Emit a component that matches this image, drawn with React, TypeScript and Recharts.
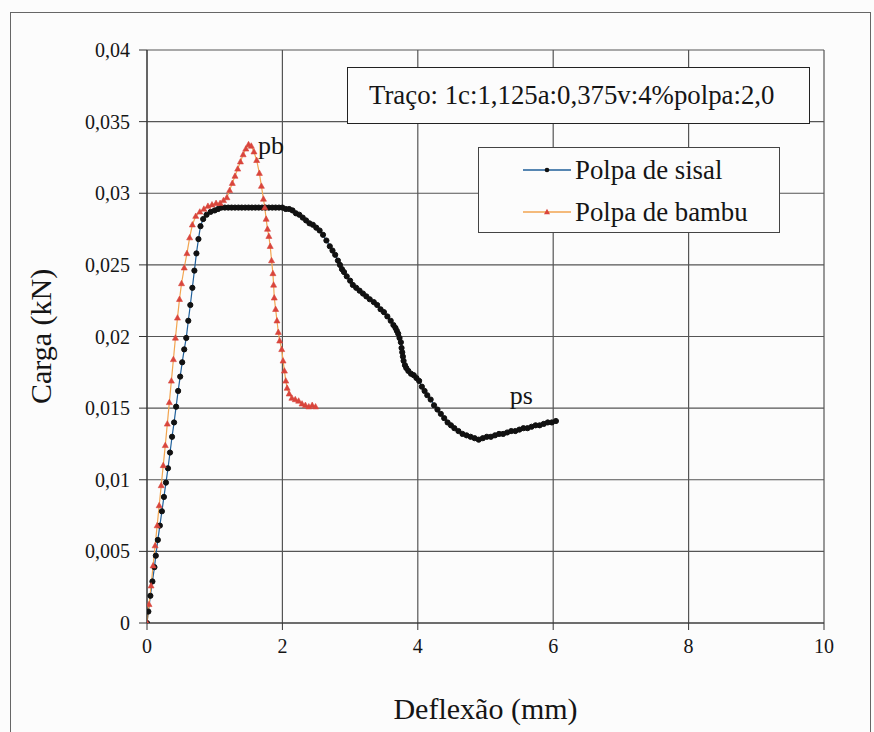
import React from 'react';
import { LineChart, Line, XAxis, YAxis, CartesianGrid, ReferenceDot } from 'recharts';

// Polpa de sisal — deflexão (mm) and carga (kN)
const sisalX = [0, 0.02, 0.05, 0.08, 0.11, 0.13, 0.16, 0.19, 0.22, 0.25, 0.28, 0.31, 0.34, 0.37, 0.40, 0.43, 0.46, 0.49, 0.52, 0.55, 0.58, 0.61, 0.64, 0.67, 0.70, 0.73, 0.76, 0.79, 0.83, 0.88, 0.94, 1.0, 1.05, 1.1, 1.15, 1.2, 1.25, 1.3, 1.35, 1.4, 1.45, 1.5, 1.55, 1.6, 1.65, 1.7, 1.75, 1.8, 1.85, 1.9, 1.95, 2.0, 2.05, 2.1, 2.15, 2.2, 2.25, 2.3, 2.35, 2.4, 2.45, 2.5, 2.55, 2.6, 2.65, 2.7, 2.74, 2.78, 2.82, 2.85, 2.88, 2.91, 2.95, 3.0, 3.04, 3.09, 3.14, 3.19, 3.24, 3.29, 3.35, 3.4, 3.45, 3.5, 3.55, 3.6, 3.64, 3.67, 3.69, 3.71, 3.73, 3.75, 3.76, 3.77, 3.78, 3.79, 3.81, 3.83, 3.86, 3.9, 3.94, 3.98, 4.02, 4.06, 4.1, 4.14, 4.19, 4.24, 4.29, 4.34, 4.39, 4.44, 4.49, 4.54, 4.6, 4.66, 4.72, 4.78, 4.84, 4.9, 4.96, 5.02, 5.08, 5.14, 5.2, 5.26, 5.32, 5.38, 5.44, 5.5, 5.56, 5.62, 5.68, 5.74, 5.8, 5.86, 5.92, 5.98, 6.04];
const sisalY = [0, 0.0008, 0.0019, 0.0029, 0.0039, 0.0047, 0.0058, 0.0068, 0.0078, 0.0088, 0.0098, 0.0108, 0.0119, 0.013, 0.014, 0.0151, 0.0162, 0.0172, 0.0182, 0.0191, 0.0199, 0.0211, 0.0222, 0.0234, 0.0246, 0.0258, 0.0268, 0.0277, 0.0282, 0.0285, 0.0287, 0.0288, 0.0289, 0.029, 0.029, 0.029, 0.029, 0.029, 0.029, 0.029, 0.029, 0.029, 0.029, 0.029, 0.029, 0.029, 0.029, 0.029, 0.029, 0.029, 0.029, 0.029, 0.0289, 0.0289, 0.0288, 0.0286, 0.0285, 0.0283, 0.0281, 0.0279, 0.0278, 0.0276, 0.0274, 0.0271, 0.0267, 0.0263, 0.026, 0.0257, 0.0253, 0.025, 0.0247, 0.0245, 0.0242, 0.0239, 0.0236, 0.0234, 0.0232, 0.023, 0.0228, 0.0226, 0.0224, 0.0222, 0.0219, 0.0217, 0.0214, 0.0211, 0.0208, 0.0206, 0.0204, 0.0202, 0.0199, 0.0196, 0.0192, 0.0189, 0.0186, 0.0183, 0.018, 0.0178, 0.0176, 0.0174, 0.0173, 0.0171, 0.0169, 0.0165, 0.0162, 0.0159, 0.0156, 0.0152, 0.0149, 0.0146, 0.0143, 0.014, 0.0138, 0.0136, 0.0134, 0.0132, 0.0131, 0.013, 0.0129, 0.0128, 0.0129, 0.013, 0.013, 0.0131, 0.0132, 0.0132, 0.0133, 0.0134, 0.0134, 0.0135, 0.0136, 0.0136, 0.0137, 0.0138, 0.0138, 0.0139, 0.014, 0.014, 0.0141, 0.0142, 0.0143];

// Polpa de bambu
const bambuX = [0, 0.03, 0.06, 0.09, 0.12, 0.15, 0.18, 0.21, 0.24, 0.27, 0.30, 0.33, 0.36, 0.39, 0.42, 0.45, 0.48, 0.51, 0.55, 0.59, 0.63, 0.67, 0.72, 0.78, 0.84, 0.9, 0.96, 1.02, 1.08, 1.13, 1.18, 1.22, 1.26, 1.3, 1.34, 1.38, 1.42, 1.46, 1.5, 1.54, 1.58, 1.62, 1.66, 1.69, 1.72, 1.74, 1.76, 1.78, 1.8, 1.82, 1.84, 1.86, 1.87, 1.88, 1.9, 1.92, 1.94, 1.96, 1.99, 2.01, 2.03, 2.05, 2.07, 2.1, 2.14, 2.19, 2.24, 2.29, 2.34, 2.39, 2.44, 2.49];
const bambuY = [0, 0.0013, 0.0026, 0.004, 0.0054, 0.0068, 0.0082, 0.0096, 0.011, 0.0124, 0.0139, 0.0154, 0.0169, 0.0184, 0.0199, 0.0213, 0.0226, 0.0237, 0.0248, 0.0258, 0.0269, 0.0278, 0.0284, 0.0287, 0.0289, 0.0291, 0.0292, 0.0293, 0.0293, 0.0295, 0.0297, 0.0302, 0.0307, 0.0312, 0.0317, 0.0322, 0.0327, 0.0331, 0.0334, 0.0333, 0.0329, 0.0323, 0.0314, 0.0305, 0.0296, 0.029, 0.0282, 0.0275, 0.027, 0.0263, 0.0253, 0.0244, 0.0236, 0.0227, 0.0219, 0.0211, 0.0203, 0.0197, 0.0191, 0.0183, 0.0176, 0.0169, 0.0164, 0.016, 0.0157, 0.0156, 0.0155, 0.0153, 0.0152, 0.0151, 0.0152, 0.0151];

const xTicks = [0, 2, 4, 6, 8, 10];
const yTicks = [0, 0.005, 0.01, 0.015, 0.02, 0.025, 0.03, 0.035, 0.04];
const yTickLabels = ['0', '0,005', '0,01', '0,015', '0,02', '0,025', '0,03', '0,035', '0,04'];
const seriesNames = ['Polpa de sisal', 'Polpa de bambu'];
const noteText = 'Traço: 1c:1,125a:0,375v:4%polpa:2,0';

const sisalData = sisalX.map((x, i) => ({ x, y: sisalY[i] }));
const bambuData = bambuX.map((x, i) => ({ x, y: bambuY[i] }));

const FONT = 'Liberation Serif, "Liberation Serif", Tinos, "Times New Roman", Times, "DejaVu Serif", serif';
const SISAL_LINE = '#1f5f9a';
const SISAL_DOT = '#111111';
const BAMBU_LINE = '#f2a550';
const BAMBU_DOT = '#d9453c';
const TEXT = '#151515';

const fmtY = (v: number) => {
  const i = yTicks.findIndex((t) => Math.abs(t - v) < 1e-9);
  return i >= 0 ? yTickLabels[i] : String(v).replace('.', ',');
};

const TriDot = (props: any) => {
  const { cx, cy, index } = props;
  if (cx == null || cy == null) return <g key={`t${index}`} />;
  return (
    <path
      key={`t${index}`}
      d={`M${cx},${cy - 3.2} L${cx + 3},${cy + 2.2} L${cx - 3},${cy + 2.2} Z`}
      fill={BAMBU_DOT}
      stroke={BAMBU_DOT}
      strokeWidth={0.6}
    />
  );
};

export default function App() {
  return (
    <div style={{ position: 'absolute', left: 0, top: 0, width: 874, height: 732, background: '#fcfcfc', overflow: 'hidden', fontFamily: FONT }}>
      <div style={{ position: 'absolute', left: 10, top: 12, width: 861, height: 740, border: '1.5px solid #666', boxSizing: 'border-box' }} />
      <LineChart
        width={874}
        height={732}
        margin={{ top: 50, right: 50, bottom: 49, left: 0 }}
        style={{ position: 'absolute', left: 0, top: 0 }}
      >
        <CartesianGrid stroke="#555" strokeWidth={1.2} horizontalValues={yTicks} verticalValues={xTicks} />
        <XAxis
          type="number"
          dataKey="x"
          domain={[0, 10]}
          ticks={xTicks}
          interval={0}
          height={60}
          tickSize={7}
          tickMargin={9}
          stroke="#333"
          tick={{ fill: TEXT, fontSize: 20, fontFamily: FONT }}
          allowDataOverflow
          label={{ value: 'Deflexão (mm)', position: 'insideBottom', offset: -36, fill: TEXT, fontSize: 30, fontFamily: FONT }}
        />
        <YAxis
          type="number"
          dataKey="y"
          domain={[0, 0.04]}
          ticks={yTicks}
          interval={0}
          width={147}
          tickSize={8}
          tickMargin={9}
          stroke="#333"
          tickFormatter={fmtY}
          tick={{ fill: TEXT, fontSize: 20, fontFamily: FONT }}
          allowDataOverflow
          label={{ value: 'Carga (kN)', angle: -90, position: 'center', dx: -33, fill: TEXT, fontSize: 30, fontFamily: FONT }}
        />
        <Line
          data={sisalData}
          dataKey="y"
          name={seriesNames[0]}
          type="linear"
          stroke={SISAL_LINE}
          strokeWidth={1.2}
          dot={{ r: 2.6, fill: SISAL_DOT, stroke: SISAL_DOT, strokeWidth: 1 }}
          isAnimationActive={false}
        />
        <Line
          data={bambuData}
          dataKey="y"
          name={seriesNames[1]}
          type="linear"
          stroke={BAMBU_LINE}
          strokeWidth={1.2}
          dot={TriDot}
          isAnimationActive={false}
        />
        <ReferenceDot x={1.83} y={0.0334} r={0} fill="none" stroke="none"
          label={{ value: 'pb', position: 'center', fill: TEXT, fontSize: 26, fontFamily: FONT }} />
        <ReferenceDot x={5.53} y={0.0159} r={0} fill="none" stroke="none"
          label={{ value: 'ps', position: 'center', fill: TEXT, fontSize: 26, fontFamily: FONT }} />
      </LineChart>

      <div style={{ position: 'absolute', left: 347, top: 67, width: 463, height: 57, border: '1.5px solid #222', boxSizing: 'border-box', background: '#fcfcfc', display: 'flex', alignItems: 'center', paddingLeft: 21, fontSize: 26.8, color: TEXT, whiteSpace: 'nowrap' }}>
        {noteText}
      </div>

      <div style={{ position: 'absolute', left: 478, top: 147, width: 302, height: 86, border: '1px solid #444', boxSizing: 'border-box', background: '#fcfcfc' }}>
        {[0, 1].map((i) => (
          <div key={i} style={{ position: 'absolute', left: 44, top: i === 0 ? 7 : 49, height: 30, display: 'flex', alignItems: 'center', whiteSpace: 'nowrap', fontSize: 26.8, color: TEXT }}>
            <svg width={48} height={12} style={{ marginRight: 4 }}>
              <line x1={0} y1={6} x2={48} y2={6} stroke={i === 0 ? SISAL_LINE : BAMBU_LINE} strokeWidth={1.5} />
              {i === 0 ? (
                <circle cx={24} cy={6} r={2.3} fill={SISAL_DOT} />
              ) : (
                <path d="M24,2.8 L27,8.2 L21,8.2 Z" fill={BAMBU_DOT} />
              )}
            </svg>
            <span>{seriesNames[i]}</span>
          </div>
        ))}
      </div>
    </div>
  );
}
